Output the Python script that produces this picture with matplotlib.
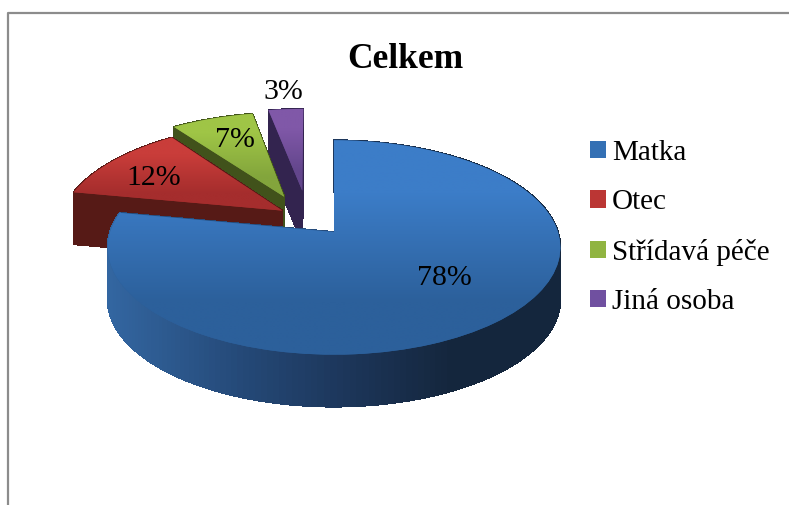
import numpy as np
import matplotlib
matplotlib.use("Agg")
import matplotlib.pyplot as plt
from matplotlib.collections import PolyCollection
from matplotlib.patches import Patch
from matplotlib.transforms import Transform

plt.rcParams['font.family'] = ['Liberation Serif', 'DejaVu Serif']

categories = ["Matka", "Otec", "Střídavá péče", "Jiná osoba"]
values = [78, 12, 7, 3]
title = "Celkem"

# slice styling, same order as categories
explode = [0, 0.28, 0.35, 0.44]
shifts = [(0, 0), (0, 6), (-20, 3), (-23, -2)]
top_light = ["#3c7dc8", "#c93d3a", "#9fc546", "#8058a8"]
top_dark = ["#2c609b", "#a52d2d", "#83a53c", "#63468c"]
side_cols = ["#1a3a5e", "#561a16", "#41521b", "#33244f"]
legend_cols = ["#3470b4", "#bb3634", "#90b441", "#7050a0"]
pct_pos = [(444, 278), (154, 178), (235, 140), (283, 92)]

# colours of the outer wall of Matka, left to right
wall_x = [110, 250, 350, 450]
wall_r = [0.20, 0.14, 0.11, 0.08]
wall_g = [0.40, 0.28, 0.21, 0.15]
wall_b = [0.63, 0.46, 0.35, 0.24]

# projection of the unit pie to pixels (near side looks bigger)
CX, CY = 334, 232
RX, RY, PERSP = 224, 105, 0.144
DEPTH = 52


class PieView(Transform):
    input_dims = 2
    output_dims = 2
    has_inverse = False

    def __init__(self, shift):
        super().__init__()
        self.shift = shift

    def transform_non_affine(self, xy):
        xy = np.asarray(xy, dtype=float)
        w = 1 + PERSP * xy[:, 1]
        px = CX + RX * xy[:, 0] / w + self.shift[0]
        py = CY - RY * xy[:, 1] / w - self.shift[1]
        return np.column_stack([px, py])


def hex_rgb(c):
    return np.array(matplotlib.colors.to_rgb(c))


fig = plt.figure(figsize=(7.89, 5.05), dpi=100)
ax = fig.add_axes([0, 0, 1, 1])

wedges, _ = ax.pie(values, explode=explode, startangle=90, counterclock=False,
                   colors=legend_cols, radius=1)

ax.set_aspect('auto')
ax.set_xlim(0, 789)
ax.set_ylim(505, 0)
ax.set_autoscale_on(False)
ax.axis('off')

# back slices first, Matka last so that it hides the others
z = 2
for i in [3, 2, 1, 0]:
    w = wedges[i]
    view = PieView(shifts[i])
    t = np.radians(np.linspace(w.theta1, w.theta2, 200))
    arc = np.column_stack([w.center[0] + w.r * np.cos(t), w.center[1] + w.r * np.sin(t)])
    outline = view.transform(np.vstack([[w.center], arc, [w.center]]))

    # side walls
    quads = []
    cols = []
    for a, b in zip(outline[:-1], outline[1:]):
        quads.append([a, b, b + [0, DEPTH], a + [0, DEPTH]])
        if i == 0:
            mx = (a[0] + b[0]) / 2
            cols.append([np.interp(mx, wall_x, wall_r), np.interp(mx, wall_x, wall_g),
                         np.interp(mx, wall_x, wall_b)])
        else:
            cols.append(hex_rgb(side_cols[i]))
    ax.add_collection(PolyCollection(quads, facecolors=cols, edgecolors=cols, linewidths=0.6,
                                     antialiaseds=False, zorder=z), autolim=False)
    z += 1

    # top face, vertical gradient clipped to the wedge
    w.set_transform(view + ax.transData)
    w.set_zorder(z)
    w.set_facecolor(top_dark[i])
    w.set_edgecolor('none')
    z += 1
    grad = np.array([[hex_rgb(top_light[i])], [hex_rgb(top_dark[i])]])
    ext = (outline[:, 0].min() - 2, outline[:, 0].max() + 2,
           outline[:, 1].max() + 2, outline[:, 1].min() - 2)
    im = ax.imshow(grad, extent=ext, aspect='auto', interpolation='bilinear', zorder=z)
    im.set_clip_path(w)
    z += 1

ax.set_xlim(0, 789)
ax.set_ylim(505, 0)

# percent labels
for v, (x, y) in zip(values, pct_pos):
    ax.text(x, y, f"{v}%", fontsize=21.5, ha='center', va='center', color='black', zorder=50)

ax.text(405, 59, title, fontsize=25.5, fontweight='bold', ha='center', va='center', zorder=50)

# outer frame, only top and left are in the picture
ax.plot([8, 8, 789], [505, 13, 13], color='#8c8c8c', lw=1.6, zorder=60, clip_on=False)

handles = [Patch(facecolor=c, edgecolor='none') for c in legend_cols]
ax.legend(handles, categories, loc='upper left', bbox_to_anchor=(590 / 789, 1 - 140 / 505),
          bbox_transform=ax.transAxes, frameon=False, fontsize=21,
          handlelength=0.55, handleheight=0.55, handletextpad=0.2,
          labelspacing=0.8, borderpad=0, borderaxespad=0)

fig.savefig("out.png", dpi=100)
